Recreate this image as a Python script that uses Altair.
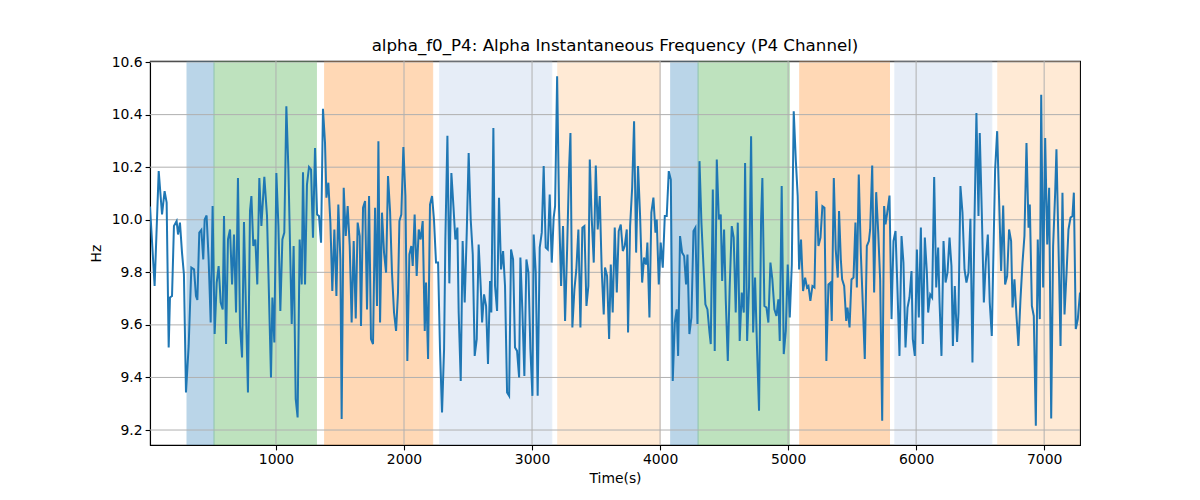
import altair as alt
import pandas as pd

# ---- line series (time in s, frequency in Hz) ----
t1 = [16, 52, 84, 110, 130, 146, 162, 172, 188, 203, 224, 235, 250, 266, 281, 297, 318, 339, 360, 375, 386, 401, 417, 432, 443, 458, 474, 490, 505, 521, 537, 552, 568, 584, 594, 610, 625, 641, 657, 672, 688, 703, 719, 735, 750, 766, 781, 797, 808, 823, 839, 854, 870, 886]
v1 = [10.05, 9.748, 10.185, 10.02, 10.109, 10.065, 9.514, 9.704, 9.71, 9.976, 9.995, 9.944, 9.989, 9.875, 9.792, 9.343, 9.52, 9.818, 9.811, 9.71, 9.695, 9.951, 9.961, 9.849, 10.001, 10.016, 9.849, 9.609, 10.052, 9.565, 9.761, 9.824, 9.685, 9.659, 10.014, 9.527, 9.925, 9.963, 9.754, 9.944, 9.647, 10.159, 9.596, 9.476, 9.991, 9.647, 9.343, 10.033, 10.09, 9.9, 9.925, 9.754, 10.159, 9.976]

t2 = [909, 930, 961, 972, 987, 1003, 1019, 1034, 1050, 1065, 1081, 1097, 1123, 1138, 1154, 1169, 1185, 1201, 1211, 1227, 1242, 1258, 1274, 1289, 1305, 1321, 1336, 1352, 1367, 1383, 1394, 1409, 1425, 1440, 1456, 1472, 1487, 1503, 1513, 1529, 1545, 1560, 1576, 1591, 1607, 1623, 1638, 1654, 1664, 1680, 1696, 1711, 1727, 1742, 1758, 1774, 1789, 1800]
v2 = [10.163, 10.014, 9.4, 9.704, 9.533, 10.178, 9.976, 9.653, 9.925, 9.951, 10.432, 10.191, 9.603, 9.9, 9.318, 9.248, 9.925, 9.754, 10.181, 9.754, 10.134, 10.201, 10.191, 9.932, 10.273, 10.02, 10.014, 9.913, 10.422, 10.292, 10.084, 10.141, 9.989, 9.729, 9.963, 9.71, 10.058, 9.849, 9.242, 10.122, 9.938, 10.052, 9.9, 9.609, 9.919, 9.624, 9.989, 9.938, 9.596, 10.046, 10.071, 9.659, 10.09, 9.546, 9.527, 10.046, 9.672, 10.299]

t3 = [1813, 1828, 1844, 1860, 1875, 1891, 1906, 1922, 1938, 1953, 1964, 1979, 1995, 2011, 2026, 2042, 2057, 2068, 2083, 2099, 2115, 2130, 2146, 2162, 2172, 2188, 2203, 2219, 2234, 2250, 2266, 2281, 2297, 2313, 2323, 2339, 2354, 2370, 2386, 2401, 2417, 2427, 2443, 2458, 2474, 2490, 2505, 2521, 2537, 2552, 2568, 2583, 2599, 2610, 2625, 2641, 2656, 2672, 2682, 2698]
v3 = [9.609, 10.027, 9.875, 9.799, 10.166, 10.033, 9.799, 9.647, 9.577, 9.723, 9.995, 10.02, 10.277, 10.09, 9.463, 9.868, 9.9, 9.824, 10.02, 9.786, 9.963, 9.925, 9.995, 9.577, 9.761, 9.47, 10.058, 10.09, 10.001, 9.837, 9.837, 9.508, 9.267, 9.508, 9.925, 10.32, 9.758, 10.178, 10.052, 9.925, 9.97, 9.647, 9.387, 9.919, 9.685, 9.951, 10.254, 10.001, 9.868, 9.482, 9.546, 9.906, 9.748, 9.609, 9.716, 9.672, 9.451, 9.767, 9.647, 10.349]

t4 = [2711, 2727, 2742, 2758, 2774, 2789, 2805, 2821, 2836, 2852, 2867, 2883, 2899, 2909, 2925, 2940, 2956, 2972, 2987, 3003, 3013, 3029, 3044, 3060, 3076, 3091, 3107, 3123, 3138, 3154, 3169, 3180, 3196, 3211, 3227, 3242, 3258, 3274, 3289, 3300, 3315, 3331, 3346, 3362, 3378, 3393, 3409, 3425, 3440, 3451, 3466, 3482, 3498, 3513, 3529, 3544, 3560, 3570, 3586, 3602]
v4 = [9.748, 9.653, 10.084, 9.811, 9.881, 9.748, 9.343, 9.33, 9.887, 9.849, 9.514, 9.501, 9.4, 9.856, 9.647, 9.406, 9.849, 9.799, 9.508, 9.33, 9.944, 9.799, 9.33, 9.894, 9.951, 10.204, 9.894, 9.887, 10.096, 9.837, 10.008, 10.052, 10.546, 10.039, 9.748, 9.976, 9.615, 9.887, 10.191, 10.33, 9.59, 9.735, 9.811, 9.963, 9.59, 9.97, 9.976, 9.672, 9.748, 10.229, 10.008, 9.837, 10.206, 9.963, 10.09, 9.811, 9.64, 9.818, 9.786, 9.546]

t5 = [3615, 3630, 3646, 3662, 3677, 3693, 3709, 3724, 3740, 3750, 3766, 3782, 3797, 3813, 3828, 3844, 3860, 3875, 3891, 3901, 3917, 3932, 3948, 3964, 3974, 3990, 4005, 4021, 4037, 4052, 4068, 4084, 4099, 4115, 4130, 4141, 4156, 4172, 4188, 4203, 4214, 4229, 4245, 4261, 4276, 4292, 4308, 4323, 4339, 4354, 4370, 4386, 4396, 4412, 4427, 4443, 4459, 4474, 4485, 4500]
v5 = [9.83, 9.647, 9.97, 9.723, 9.957, 9.982, 9.881, 9.9, 9.963, 9.571, 9.976, 10.122, 10.375, 9.875, 10.204, 10.014, 9.761, 9.856, 9.83, 9.913, 9.628, 10.027, 10.084, 9.951, 10.001, 9.754, 9.913, 9.818, 10.014, 10.014, 10.185, 10.153, 9.387, 9.609, 9.659, 9.482, 9.938, 9.875, 9.862, 9.754, 9.868, 9.565, 9.628, 9.957, 9.97, 9.603, 10.223, 9.989, 9.824, 9.678, 9.659, 9.571, 9.527, 10.115, 9.501, 10.229, 10.001, 10.02, 9.767, 9.963]

t6 = [4513, 4529, 4544, 4560, 4575, 4591, 4607, 4622, 4638, 4654, 4664, 4680, 4695, 4711, 4727, 4742, 4758, 4773, 4789, 4799, 4815, 4831, 4846, 4862, 4877, 4893, 4909, 4924, 4935, 4950, 4966, 4982, 4997, 5013, 5029, 5044, 5060, 5075, 5086, 5101, 5117, 5133, 5148, 5159, 5174, 5190, 5206, 5221, 5237, 5253, 5268, 5284, 5299, 5315, 5331, 5341, 5357, 5372, 5388, 5398]
v6 = [9.697, 9.463, 9.748, 9.976, 9.932, 9.647, 9.989, 9.539, 9.723, 9.647, 10.216, 9.539, 9.748, 10.318, 9.571, 9.78, 9.501, 9.273, 10.001, 10.159, 9.672, 9.666, 9.609, 9.837, 9.773, 9.659, 9.634, 9.697, 9.539, 10.128, 9.489, 9.577, 9.83, 9.628, 9.83, 10.413, 10.229, 10.09, 9.811, 9.925, 9.729, 9.78, 9.742, 9.748, 9.691, 9.748, 9.742, 10.109, 9.9, 9.932, 10.052, 10.046, 9.463, 9.754, 9.761, 9.615, 10.159, 9.887, 9.78, 10.033]

t7 = [5412, 5422, 5438, 5454, 5464, 5480, 5495, 5511, 5526, 5537, 5552, 5568, 5584, 5599, 5615, 5631, 5641, 5657, 5672, 5688, 5704, 5719, 5735, 5750, 5761, 5776, 5792, 5808, 5823, 5839, 5855, 5870, 5886, 5901, 5917, 5933, 5948, 5964, 5974, 5990, 6006, 6021, 6037, 6052, 6068, 6084, 6094, 6110, 6125, 6141, 6157, 6172, 6183, 6198, 6214, 6230, 6245, 6261, 6276, 6287, 6302]
v7 = [9.849, 9.773, 9.748, 9.615, 9.666, 9.59, 9.773, 9.78, 9.989, 9.742, 10.172, 9.875, 9.672, 9.47, 9.9, 9.919, 9.963, 10.206, 9.723, 10.105, 9.951, 9.773, 9.235, 10.052, 9.982, 10.033, 10.092, 9.622, 9.919, 9.957, 9.723, 9.482, 9.938, 9.837, 9.514, 9.666, 9.704, 9.805, 9.546, 9.482, 9.887, 9.628, 9.97, 9.527, 9.932, 9.799, 9.647, 9.716, 9.704, 10.163, 9.742, 9.894, 9.685, 9.482, 9.919, 9.761, 9.799, 9.932, 9.824, 9.52, 9.748]

t8 = [6320, 6331, 6346, 6362, 6378, 6393, 6409, 6424, 6440, 6456, 6471, 6487, 6497, 6513, 6529, 6544, 6560, 6575, 6591, 6607, 6617, 6633, 6648, 6664, 6680, 6695, 6711, 6726, 6742, 6753, 6768, 6784, 6799, 6815, 6831, 6846, 6862, 6878, 6888, 6904, 6919, 6935, 6950, 6966, 6977, 6992, 7008, 7024, 7039, 7055, 7070, 7086, 7096, 7112, 7128, 7143, 7159, 7175, 7190, 7206, 7221, 7232, 7247, 7263, 7280]
v8 = [9.535, 9.647, 10.128, 10.027, 9.811, 9.761, 9.799, 10.004, 9.457, 10.001, 10.406, 10.014, 10.33, 10.027, 9.685, 9.837, 9.944, 9.685, 9.558, 9.951, 10.191, 10.337, 10.077, 9.805, 10.054, 9.754, 9.786, 9.963, 9.919, 9.666, 9.773, 9.634, 9.52, 9.697, 9.837, 9.938, 10.292, 9.97, 10.058, 9.672, 9.634, 9.216, 9.925, 9.622, 10.476, 9.742, 10.311, 9.906, 10.122, 9.244, 9.9, 10.103, 10.268, 9.9, 9.52, 10.103, 9.64, 9.799, 9.963, 10.008, 10.014, 10.103, 9.584, 9.622, 9.723]

# ---- shaded intervals ----
span_start = [305, 516, 1380, 2279, 3201, 4083, 4297, 5091, 5834, 6638]
span_end = [516, 1316, 2224, 3154, 4000, 4297, 5010, 5792, 6591, 7280]
span_kind = ["a", "b", "c", "d", "e", "a", "b", "c", "d", "e"]
kind_names = ["a", "b", "c", "d", "e"]
kind_colors = ["#1f77b4", "#2ca02c", "#ff7f0e", "#aec7e8", "#ffbb78"]

# ---- axis ticks ----
x_ticks = [1000, 2000, 3000, 4000, 5000, 6000, 7000]
y_ticks = [9.2, 9.4, 9.6, 9.8, 10.0, 10.2, 10.4, 10.6]

X_DOMAIN = [16, 7280]
Y_DOMAIN = [9.143, 10.604]

times = t1 + t2 + t3 + t4 + t5 + t6 + t7 + t8
values = v1 + v2 + v3 + v4 + v5 + v6 + v7 + v8
line_df = pd.DataFrame({"t": times, "hz": values})
span_df = pd.DataFrame({"start": span_start, "end": span_end, "kind": span_kind})
xg_df = pd.DataFrame({"x": x_ticks})
yg_df = pd.DataFrame({"y": y_ticks})

FONT = "DejaVu Sans"
xscale = alt.Scale(domain=X_DOMAIN, nice=False, zero=False)
yscale = alt.Scale(domain=Y_DOMAIN, nice=False, zero=False)

xaxis = alt.Axis(values=x_ticks, format="d", title="Time(s)", grid=False,
                 tickSize=4.9, labelPadding=3, titlePadding=5)
yaxis = alt.Axis(values=y_ticks, format=".1f", title="Hz", grid=False,
                 tickSize=4.9, labelPadding=3, titlePadding=8)

spans = alt.Chart(span_df).mark_rect(opacity=0.3, strokeWidth=1, clip=True).encode(
    x=alt.X("start:Q", scale=xscale, axis=xaxis),
    x2="end:Q",
    color=alt.Color("kind:N", scale=alt.Scale(domain=kind_names, range=kind_colors), legend=None),
    stroke=alt.Stroke("kind:N", scale=alt.Scale(domain=kind_names, range=kind_colors), legend=None),
)

xgrid = alt.Chart(xg_df).mark_rule(color="#b0b0b0", strokeWidth=1).encode(
    x=alt.X("x:Q", scale=xscale, axis=xaxis)
)
ygrid = alt.Chart(yg_df).mark_rule(color="#b0b0b0", strokeWidth=1).encode(
    y=alt.Y("y:Q", scale=yscale, axis=yaxis)
)

line = alt.Chart(line_df).mark_line(color="#1f77b4", strokeWidth=2, clip=True).encode(
    x=alt.X("t:Q", scale=xscale, axis=xaxis),
    y=alt.Y("hz:Q", scale=yscale, axis=yaxis),
)

chart = alt.layer(spans, xgrid, ygrid, line).properties(
    width=930,
    height=384,
    title=alt.Title("alpha_f0_P4: Alpha Instantaneous Frequency (P4 Channel)",
                    fontSize=16.7, font=FONT, fontWeight="normal", color="black",
                    anchor="middle", offset=0),
    autosize=alt.AutoSizeParams(type="none"),
    padding={"left": 142, "top": 53, "right": 112, "bottom": 47},
).configure_view(
    stroke="black", strokeWidth=1.1
).configure_axis(
    labelFont=FONT, titleFont=FONT, labelFontSize=13.9, titleFontSize=13.9,
    labelColor="black", titleColor="black", titleFontWeight="normal",
    domainColor="black", tickColor="black", domainWidth=1.1, tickWidth=1.1,
)

chart.save("out.html", embed_options={"renderer": "svg", "actions": False})
